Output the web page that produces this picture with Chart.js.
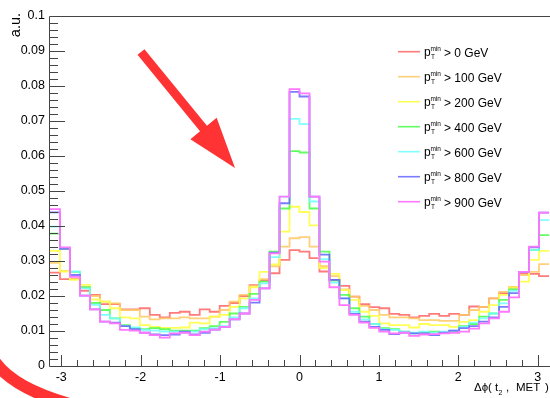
<!DOCTYPE html>
<html>
<head>
<meta charset="utf-8">
<script src="https://cdn.jsdelivr.net/npm/chart.js@4.4.1/dist/chart.umd.min.js"></script>
<style>
  html, body { margin: 0; padding: 0; background: #fff; }
  canvas { display: block; }
</style>
</head>
<body>
<canvas id="c" width="550" height="398"></canvas>
<script>
// 50 bins in delta phi, from -pi to pi
const nBins = 50;
const thresholds = [0, 100, 200, 400, 600, 800, 900];
const colors = [
  'rgba(255,100,100,0.85)',
  'rgba(255,200,100,0.85)',
  'rgba(255,255,70,0.9)',
  'rgba(70,255,70,0.85)',
  'rgba(110,255,255,0.85)',
  'rgba(100,100,255,0.85)',
  'rgb(255,120,255)'
];

const pt0 = [0.0267, 0.0248, 0.0248, 0.0215, 0.0203, 0.0177, 0.0177, 0.0162, 0.0162, 0.0165,
  0.0146, 0.0139, 0.0152, 0.0155, 0.0146, 0.0162, 0.0155, 0.0172, 0.0180, 0.0200,
  0.0231, 0.0245, 0.0265, 0.0303, 0.0331, 0.0327, 0.0308, 0.0270, 0.0246, 0.0229,
  0.0198, 0.0177, 0.0168, 0.0165, 0.0149, 0.0146, 0.0139, 0.0143, 0.0149, 0.0143,
  0.0149, 0.0146, 0.0170, 0.0169, 0.0193, 0.0208, 0.0225, 0.0265, 0.0263, 0.0257];
const pt100 = [0.0295, 0.0272, 0.0248, 0.0225, 0.0200, 0.0184, 0.0179, 0.0160, 0.0160, 0.0141,
  0.0133, 0.0136, 0.0136, 0.0139, 0.0136, 0.0136, 0.0141, 0.0160, 0.0184, 0.0203,
  0.0229, 0.0248, 0.0285, 0.0341, 0.0365, 0.0368, 0.0341, 0.0285, 0.0257, 0.0219,
  0.0198, 0.0172, 0.0160, 0.0146, 0.0139, 0.0139, 0.0136, 0.0131, 0.0131, 0.0129,
  0.0129, 0.0146, 0.0160, 0.0169, 0.0193, 0.0212, 0.0219, 0.0260, 0.0269, 0.0291];
const pt200 = [0.0329, 0.0270, 0.0246, 0.0232, 0.0190, 0.0184, 0.0165, 0.0139, 0.0136, 0.0117,
  0.0112, 0.0109, 0.0109, 0.0110, 0.0124, 0.0122, 0.0141, 0.0146, 0.0169, 0.0193,
  0.0225, 0.0269, 0.0290, 0.0384, 0.0455, 0.0440, 0.0402, 0.0280, 0.0263, 0.0217,
  0.0189, 0.0155, 0.0143, 0.0122, 0.0117, 0.0117, 0.0110, 0.0120, 0.0117, 0.0117,
  0.0112, 0.0126, 0.0131, 0.0155, 0.0174, 0.0203, 0.0225, 0.0241, 0.0303, 0.0329];
const pt400 = [0.0378, 0.0335, 0.0269, 0.0225, 0.0180, 0.0160, 0.0136, 0.0117, 0.0108, 0.0105,
  0.0108, 0.0105, 0.0101, 0.0101, 0.0101, 0.0108, 0.0114, 0.0126, 0.0150, 0.0169,
  0.0206, 0.0241, 0.0327, 0.0450, 0.0614, 0.0610, 0.0450, 0.0327, 0.0244, 0.0203,
  0.0165, 0.0141, 0.0120, 0.0108, 0.0105, 0.0098, 0.0093, 0.0095, 0.0098, 0.0095,
  0.0098, 0.0114, 0.0120, 0.0141, 0.0150, 0.0189, 0.0219, 0.0269, 0.0331, 0.0374];
const pt600 = [0.0398, 0.0338, 0.0270, 0.0222, 0.0175, 0.0146, 0.0136, 0.0114, 0.0110, 0.0103,
  0.0101, 0.0098, 0.0098, 0.0095, 0.0098, 0.0105, 0.0108, 0.0114, 0.0139, 0.0165,
  0.0193, 0.0236, 0.0311, 0.0484, 0.0706, 0.0691, 0.0470, 0.0305, 0.0238, 0.0193,
  0.0155, 0.0133, 0.0120, 0.0105, 0.0103, 0.0098, 0.0095, 0.0098, 0.0095, 0.0098,
  0.0101, 0.0112, 0.0124, 0.0136, 0.0150, 0.0179, 0.0215, 0.0269, 0.0331, 0.0417];
const pt800 = [0.0439, 0.0335, 0.0260, 0.0201, 0.0162, 0.0127, 0.0124, 0.0114, 0.0105, 0.0095,
  0.0090, 0.0088, 0.0090, 0.0098, 0.0090, 0.0095, 0.0104, 0.0112, 0.0133, 0.0150,
  0.0181, 0.0222, 0.0324, 0.0465, 0.0783, 0.0770, 0.0484, 0.0318, 0.0246, 0.0193,
  0.0149, 0.0127, 0.0112, 0.0103, 0.0091, 0.0095, 0.0093, 0.0093, 0.0088, 0.0095,
  0.0101, 0.0108, 0.0114, 0.0127, 0.0139, 0.0169, 0.0208, 0.0269, 0.0339, 0.0438];
const pt900 = [0.0448, 0.0339, 0.0255, 0.0201, 0.0162, 0.0127, 0.0122, 0.0103, 0.0101, 0.0095,
  0.0088, 0.0081, 0.0093, 0.0095, 0.0088, 0.0098, 0.0104, 0.0112, 0.0133, 0.0150,
  0.0189, 0.0222, 0.0322, 0.0484, 0.0791, 0.0779, 0.0484, 0.0298, 0.0225, 0.0174,
  0.0146, 0.0124, 0.0109, 0.0098, 0.0093, 0.0095, 0.0086, 0.0090, 0.0091, 0.0093,
  0.0095, 0.0098, 0.0107, 0.0122, 0.0136, 0.0155, 0.0196, 0.0269, 0.0341, 0.0438];

const series = [pt0, pt100, pt200, pt400, pt600, pt800, pt900];
const FONT = "'Liberation Sans', Arial, Helvetica, sans-serif";

// bin edges -> step points (value held until the next edge)
function histPoints(vals) {
  const w = 2 * Math.PI / nBins;
  const pts = vals.map((v, i) => ({x: -Math.PI + i * w, y: v}));
  pts.push({x: Math.PI, y: vals[vals.length - 1]});
  return pts;
}

// ROOT style ticks drawn inside the frame
const rootAxes = {
  id: 'rootAxes',
  afterDatasetsDraw(chart) {
    const {ctx, chartArea: a, scales: {x, y}} = chart;
    ctx.save();
    ctx.strokeStyle = '#444';
    ctx.lineWidth = 1;
    ctx.beginPath();
    ctx.moveTo(a.left - 0.5, a.bottom + 0.5);
    ctx.lineTo(a.left - 0.5, a.top + 0.5);
    ctx.lineTo(chart.width, a.top + 0.5);
    ctx.moveTo(a.left - 0.5, a.bottom + 0.5);
    ctx.lineTo(chart.width, a.bottom + 0.5);
    for (let i = 0; i <= 50; i++) {
      const py = Math.round(y.getPixelForValue(i * 0.002)) + 0.5;
      const len = i % 5 === 0 ? 15 : 8;
      ctx.moveTo(a.left, py);
      ctx.lineTo(a.left + len, py);
    }
    for (let i = -15; i <= 15; i++) {
      const px = Math.round(x.getPixelForValue(i * 0.2)) + 0.5;
      const len = i % 5 === 0 ? 11 : 6;
      ctx.moveTo(px, a.bottom);
      ctx.lineTo(px, a.bottom - len);
    }
    ctx.stroke();
    ctx.restore();
  },
  afterDraw(chart) {
    const {ctx} = chart;
    ctx.save();
    ctx.fillStyle = '#000';

    // y title
    ctx.save();
    ctx.translate(20, 13);
    ctx.rotate(-Math.PI / 2);
    ctx.font = '14.5px ' + FONT;
    ctx.textAlign = 'right';
    ctx.textBaseline = 'alphabetic';
    ctx.fillText('a.u.', 0, 0);
    ctx.restore();

    // x title
    ctx.textAlign = 'left';
    ctx.font = '11.5px ' + FONT;
    ctx.fillText('\u0394\u03D5(', 474, 391);
    ctx.fillText('t', 495, 391);
    ctx.fillText(',', 506, 391);
    ctx.fillText('MET', 516, 391);
    ctx.fillText(')', 545, 391);
    ctx.font = '7px ' + FONT;
    ctx.fillText('2', 498.5, 395);

    // legend
    chart.data.datasets.forEach((ds, i) => {
      const ly = 51.7 + 25 * i;
      ctx.strokeStyle = ds.borderColor;
      ctx.lineWidth = 1.6;
      ctx.beginPath();
      ctx.moveTo(398, ly);
      ctx.lineTo(420, ly);
      ctx.stroke();
      ctx.fillStyle = '#000';
      ctx.font = '12px ' + FONT;
      ctx.fillText('p', 424, ly + 4.5);
      ctx.fillText('> ' + thresholds[i] + ' GeV', 444, ly + 5);
      ctx.font = '6.5px ' + FONT;
      ctx.fillText('min', 430.5, ly - 1);
      ctx.fillText('T', 431, ly + 7);
    });

    // red annotation: arrow
    ctx.fillStyle = '#ff3333';
    const S = [141, 52], B = [203.5, 128.5], T = [235, 168];
    const n = [-0.773, 0.633];
    const p = (P, k) => [P[0] + n[0] * k, P[1] + n[1] * k];
    const poly = [p(S, 4.5), p(B, 4.5), p(B, 17), T, p(B, -17), p(B, -4.5), p(S, -4.5)];
    ctx.beginPath();
    poly.forEach((q, j) => j ? ctx.lineTo(q[0], q[1]) : ctx.moveTo(q[0], q[1]));
    ctx.closePath();
    ctx.fill();

    // red annotation: arc bottom left
    ctx.strokeStyle = '#ff3333';
    ctx.lineWidth = 12;
    ctx.beginPath();
    ctx.moveTo(-10, 354);
    ctx.quadraticCurveTo(8, 390, 85, 408);
    ctx.stroke();
    ctx.restore();
  }
};

const datasets = series.map((vals, i) => ({
  label: 'pT(min) > ' + thresholds[i] + ' GeV',
  data: histPoints(vals),
  borderColor: colors[i],
  borderWidth: 1.8,
  stepped: true,
  pointRadius: 0,
  fill: false,
  order: series.length - i
}));

new Chart(document.getElementById('c'), {
  type: 'line',
  data: {datasets: datasets},
  options: {
    responsive: false,
    animation: false,
    devicePixelRatio: 1,
    layout: {padding: {left: 0, right: 1, top: 16, bottom: 0}},
    plugins: {legend: {display: false}, tooltip: {enabled: false}},
    scales: {
      x: {
        type: 'linear',
        min: -Math.PI,
        max: Math.PI,
        grid: {display: false, drawTicks: false},
        border: {display: false},
        ticks: {
          stepSize: 1, includeBounds: false, autoSkip: false, maxRotation: 0,
          padding: 4, color: '#000', font: {family: FONT, size: 12.5},
          callback: v => String(v)
        },
        afterFit(s) { s.height = 32; }
      },
      y: {
        min: 0,
        max: 0.1,
        grid: {display: false, drawTicks: false},
        border: {display: false},
        ticks: {
          stepSize: 0.01, autoSkip: false, padding: 5, color: '#000',
          font: {family: FONT, size: 12.5},
          callback: v => String(Math.round(v * 100) / 100)
        },
        afterFit(s) { s.width = 50; }
      }
    }
  },
  plugins: [rootAxes]
});
</script>
</body>
</html>
